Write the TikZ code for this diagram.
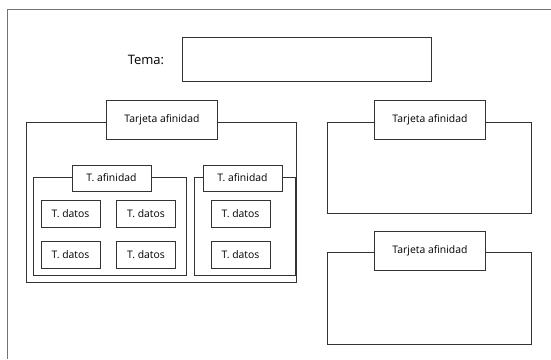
\documentclass[tikz,border=0pt]{standalone}
\usepackage{fontspec}
\setmainfont{Open Sans}
\begin{document}
\begin{tikzpicture}[x=1pt,y=-1pt,
  framecol/.style={draw=black!80, line width=0.9pt},
  groupframe/.style={framecol},
  titlebox/.style={framecol, fill=white, inner sep=0pt, font=\fontsize{10.4}{12}\selectfont},
  bigtitle/.style={titlebox, minimum width=111pt, minimum height=39pt},
  smalltitle/.style={titlebox, minimum width=79pt, minimum height=26pt},
  datos/.style={titlebox, minimum width=59pt, minimum height=27pt},
  sheet/.style={draw=black!55, line width=1pt}
]
\useasboundingbox (0,0) rectangle (551,359);
% sheet border
\draw[sheet] (551,9.5) -- (7.5,9.5) -- (7.5,359);

% topic
\node[font=\fontsize{13}{15}\selectfont] (temalabel) at (146,60) {Tema:};
\node[framecol, minimum width=249pt, minimum height=44pt, inner sep=0pt] (tema) at (306.5,59) {};

% large group on the left
\draw[groupframe] (26,122) rectangle (296,282);
\node[bigtitle] (g1) at (162,119.5) {Tarjeta afinidad};

% first sub-group
\draw[groupframe] (33.5,177.5) rectangle (186,275);
\node[smalltitle] (s1) at (111.5,178) {T. afinidad};
\node[datos] (d11) at (70.5,213.7) {T. datos};
\node[datos] (d12) at (146,213.7) {T. datos};
\node[datos] (d13) at (70.5,254.7) {T. datos};
\node[datos] (d14) at (146,254.7) {T. datos};

% second sub-group
\draw[groupframe] (194,177.5) rectangle (295.5,275);
\node[smalltitle] (s2) at (242.5,178) {T. afinidad};
\node[datos] (d21) at (240.5,213.7) {T. datos};
\node[datos] (d22) at (240.5,254.7) {T. datos};

% empty groups on the right
\draw[groupframe] (327.5,122) rectangle (531,213.5);
\node[bigtitle] (g2) at (430,119.5) {Tarjeta afinidad};

\draw[groupframe] (327.5,252.5) rectangle (531,344.5);
\node[bigtitle] (g3) at (430,250.5) {Tarjeta afinidad};
\end{tikzpicture}
\end{document}
